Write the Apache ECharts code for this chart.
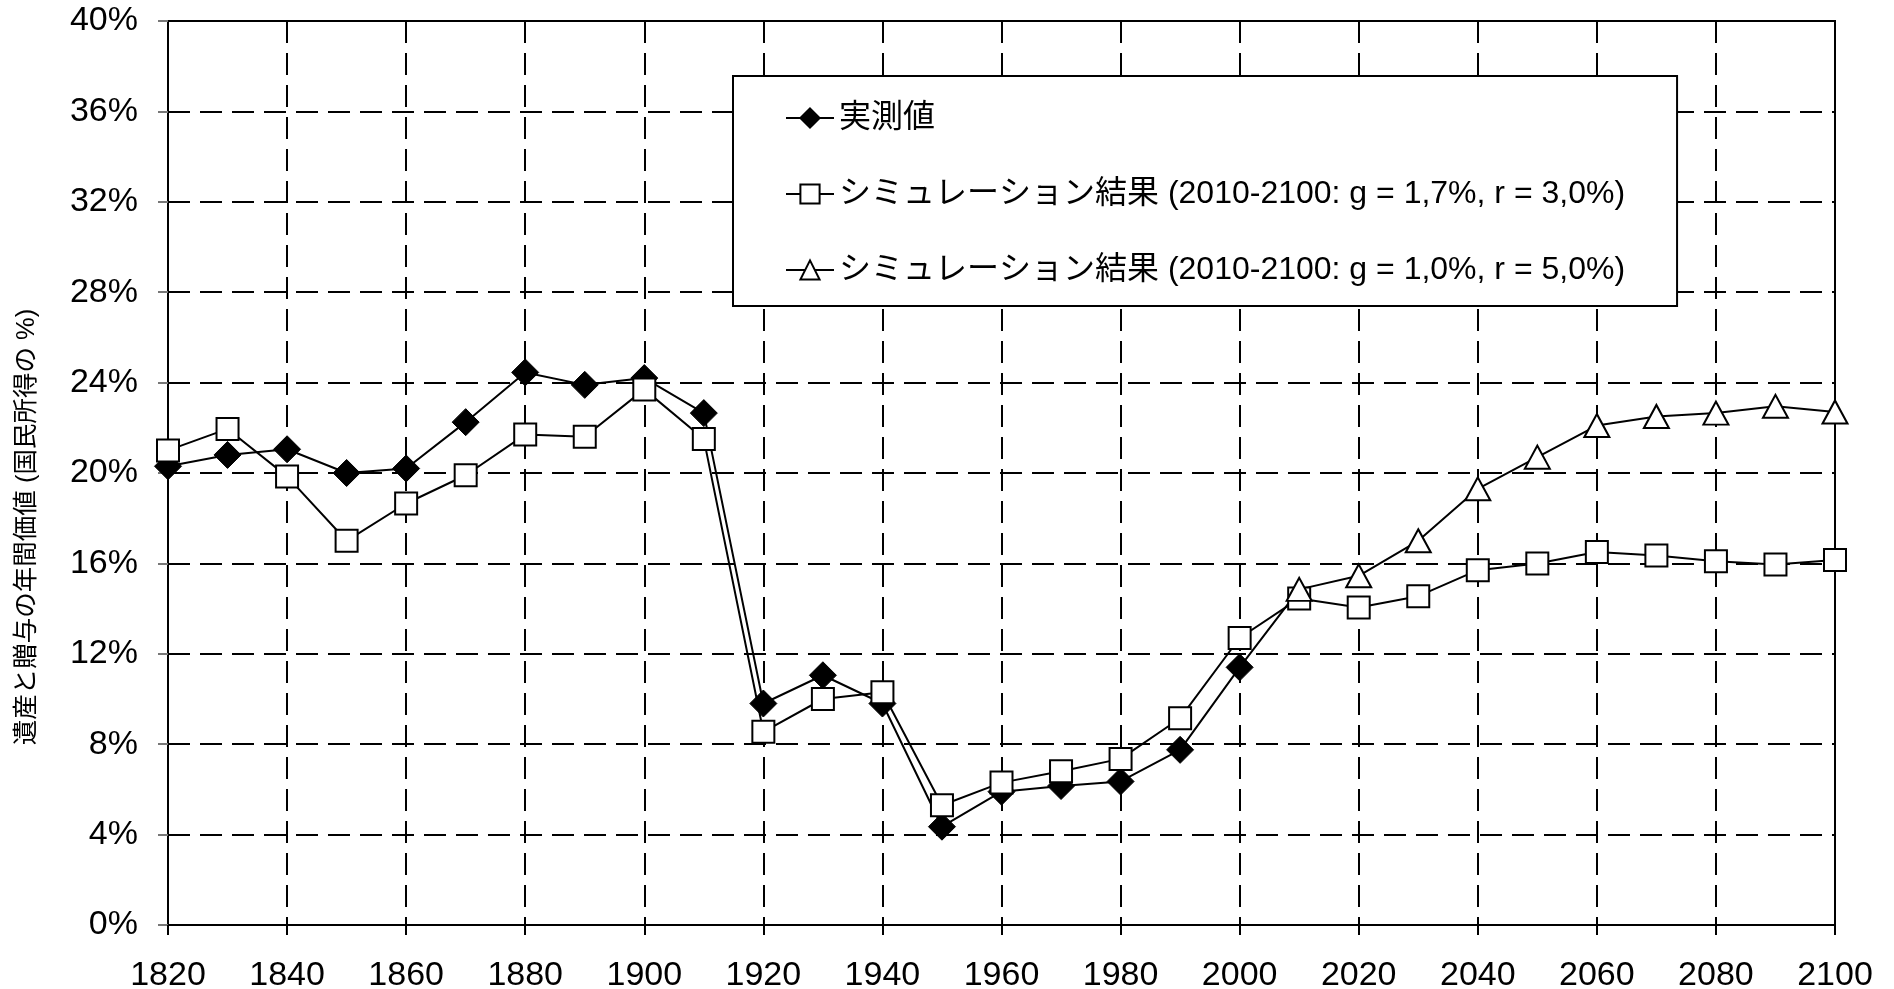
<!DOCTYPE html>
<html>
<head>
<meta charset="utf-8">
<script src="https://cdn.jsdelivr.net/npm/echarts@6/dist/echarts.min.js"></script>
<style>
html,body{margin:0;padding:0;background:#fff;}
#main{width:1894px;height:989px;}
</style>
</head>
<body>
<div id="main"></div>
<script>
// ---- data ----
const observedYears = [1820,1830,1840,1850,1860,1870,1880,1890,1900,1910,1920,1930,1940,1950,1960,1970,1980,1990,2000];
const observedValues = [20.3,20.8,21.05,20.0,20.2,22.25,24.45,23.9,24.2,22.65,9.8,11.05,9.8,4.35,5.9,6.15,6.35,7.75,11.4];

const sim1Years = [1820,1830,1840,1850,1860,1870,1880,1890,1900,1910,1920,1930,1940,1950,1960,1970,1980,1990,2000,2010,2020,2030,2040,2050,2060,2070,2080,2090,2100];
const sim1Values = [21.0,21.95,19.85,17.0,18.65,19.9,21.7,21.6,23.7,21.5,8.55,10.0,10.3,5.3,6.3,6.8,7.35,9.15,12.7,14.45,14.05,14.55,15.7,16.0,16.5,16.35,16.1,15.95,16.15];

const sim2Years = [2000,2010,2020,2030,2040,2050,2060,2070,2080,2090,2100];
const sim2Values = [11.4,14.85,15.45,17.0,19.3,20.7,22.1,22.5,22.65,22.95,22.7];

const seriesNames = ['実測値','シミュレーション結果 (2010-2100: g = 1,7%, r = 3,0%)','シミュレーション結果 (2010-2100: g = 1,0%, r = 5,0%)'];
const yAxisTitle = '遺産と贈与の年間価値 (国民所得の %)';
const xMin = 1820, xMax = 2100, xStep = 20;
const yMin = 0, yMax = 40, yStep = 4;

// ---- chart ----
const FONT = '"Liberation Sans", Arial, "Noto Sans CJK JP", sans-serif';
const pairs = (xs, vs) => xs.map((x, i) => [x, vs[i]]);
const sim2Data = pairs(sim2Years, sim2Values).map((p, i) => i === 0 ? {value: p, symbol: 'none'} : p);

const chart = echarts.init(document.getElementById('main'), null, {renderer: 'canvas'});
const dash = [22, 10];
chart.setOption({
  animation: false,
  backgroundColor: '#fff',
  textStyle: {fontFamily: FONT, color: '#000'},
  grid: {left: 168, right: 59, top: 21, bottom: 64, outerBoundsMode: 'none', containLabel: false,
    show: true, borderColor: '#000', borderWidth: 2, backgroundColor: 'transparent'},
  xAxis: {
    type: 'value', min: xMin, max: xMax, interval: xStep,
    axisLine: {show: true, lineStyle: {color: '#000', width: 2}},
    axisTick: {show: true, length: 10, lineStyle: {color: '#000', width: 2}},
    axisLabel: {color: '#000', fontSize: 34, fontFamily: FONT, margin: 34, formatter: v => String(v)},
    splitLine: {show: true, lineStyle: {color: '#000', width: 2, type: dash}}
  },
  yAxis: {
    type: 'value', min: yMin, max: yMax, interval: yStep,
    axisLine: {show: true, lineStyle: {color: '#000', width: 2}},
    axisTick: {show: true, length: 10, lineStyle: {color: '#777', width: 2}},
    axisLabel: {color: '#000', fontSize: 34, fontFamily: FONT, margin: 30, formatter: '{value}%'},
    splitLine: {show: true, lineStyle: {color: '#000', width: 2, type: dash}}
  },
  legend: {
    orient: 'vertical', left: 733, top: 76,
    padding: [26, 52, 20, 52],
    itemGap: 44, itemWidth: 48, itemHeight: 24,
    backgroundColor: '#fff', borderColor: '#000', borderWidth: 2, borderRadius: 0,
    textStyle: {fontSize: 32, lineHeight: 32, color: '#000', fontFamily: FONT},
    data: seriesNames
  },
  graphic: [{
    type: 'text', x: 27, y: 527, rotation: Math.PI / 2,
    style: {text: yAxisTitle, fontSize: 25.5, fontFamily: FONT, fill: '#000',
      align: 'center', verticalAlign: 'middle', textAlign: 'center', textVerticalAlign: 'middle'}
  }],
  series: [
    {
      name: seriesNames[0], type: 'line', data: pairs(observedYears, observedValues),
      symbol: 'diamond', symbolSize: 27,
      lineStyle: {color: '#000', width: 2},
      itemStyle: {color: '#000', borderColor: '#000', borderWidth: 1}
    },
    {
      name: seriesNames[1], type: 'line', data: pairs(sim1Years, sim1Values),
      symbol: 'rect', symbolSize: 22,
      lineStyle: {color: '#000', width: 2},
      itemStyle: {color: '#fff', borderColor: '#000', borderWidth: 2}
    },
    {
      name: seriesNames[2], type: 'line', data: sim2Data,
      symbol: 'triangle', symbolSize: [25, 23],
      lineStyle: {color: '#000', width: 2},
      itemStyle: {color: '#fff', borderColor: '#000', borderWidth: 2}
    }
  ]
});
</script>
</body>
</html>
